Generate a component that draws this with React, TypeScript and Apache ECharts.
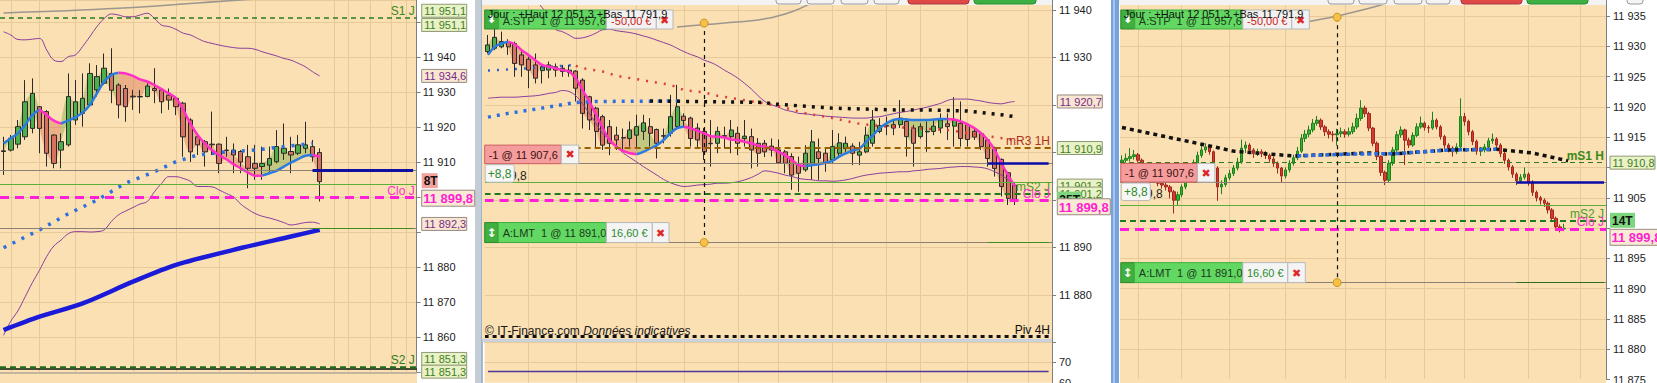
import { useEffect, useRef } from 'react';
import * as echarts from 'echarts';

const W = 1657;
const H = 383;
const FONT = '"Liberation Sans", Arial, sans-serif';
const BEIGE = '#FAE0B2';
const GRIDC = '#E8C999';
const AXISC = '#7F7F7F';

// ---------------- shared order / level prices ----------------
const stpPrice = 11957.6;
const posPrice = 11907.6;
const lmtPrice = 11891.0;
const cloJ = 11899.8;
const dayHigh = 12051.3;
const dayLow = 11791.9;

// ---------------- LEFT PANEL (4H) ----------------
// [open, close, low, high]
const leftCandles = [
  [11913.2, 11913.0, 11906.3, 11917.2],
  [11913.4, 11916.8, 11913.0, 11917.7],
  [11915.1, 11920.1, 11913.9, 11922.0],
  [11917.2, 11927.2, 11916.3, 11933.4],
  [11919.6, 11929.6, 11918.2, 11933.9],
  [11925.8, 11919.6, 11912.5, 11926.0],
  [11924.4, 11912.5, 11908.7, 11924.8],
  [11917.7, 11909.6, 11908.2, 11917.9],
  [11913.4, 11915.8, 11908.2, 11918.2],
  [11914.9, 11928.7, 11914.4, 11935.3],
  [11922.0, 11927.2, 11920.6, 11933.4],
  [11923.9, 11928.2, 11920.1, 11935.3],
  [11926.3, 11935.3, 11925.8, 11938.2],
  [11930.6, 11934.4, 11928.7, 11937.7],
  [11932.5, 11936.8, 11932.0, 11941.0],
  [11935.3, 11930.5, 11926.8, 11942.5],
  [11932.0, 11926.3, 11922.5, 11932.5],
  [11931.0, 11925.8, 11921.5, 11932.0],
  [11928.8, 11928.6, 11924.9, 11930.6],
  [11928.7, 11928.6, 11923.9, 11930.6],
  [11928.7, 11931.7, 11928.5, 11932.5],
  [11931.0, 11930.4, 11926.8, 11936.8],
  [11930.6, 11927.2, 11923.9, 11931.0],
  [11929.1, 11927.7, 11924.9, 11931.0],
  [11928.2, 11925.8, 11923.4, 11928.7],
  [11926.8, 11917.2, 11911.5, 11927.2],
  [11922.0, 11912.9, 11910.0, 11922.5],
  [11917.2, 11914.9, 11912.0, 11918.2],
  [11915.8, 11912.9, 11908.7, 11916.3],
  [11915.1, 11914.9, 11912.0, 11924.4],
  [11915.1, 11909.6, 11906.8, 11915.3],
  [11913.4, 11913.3, 11911.5, 11917.2],
  [11913.4, 11912.0, 11906.8, 11915.3],
  [11913.0, 11910.0, 11906.8, 11913.4],
  [11911.5, 11908.2, 11902.5, 11914.9],
  [11909.6, 11908.2, 11904.9, 11914.9],
  [11908.7, 11909.6, 11904.9, 11914.4],
  [11909.1, 11911.0, 11907.2, 11914.4],
  [11910.1, 11914.4, 11909.6, 11919.1],
  [11912.5, 11913.9, 11910.6, 11921.0],
  [11913.0, 11912.0, 11906.8, 11917.2],
  [11912.5, 11914.9, 11912.0, 11917.7],
  [11913.9, 11914.9, 11912.5, 11921.5],
  [11914.4, 11911.5, 11910.1, 11916.3],
  [11912.7, 11904.4, 11898.7, 11913.9],
];
const leftMa = [
  11915.3, 11916.8, 11918.2, 11920.6, 11923.4, 11925.0, 11923.4, 11921.8, 11921.0,
  11921.8, 11922.8, 11924.1, 11926.3, 11929.6, 11933.0, 11934.9, 11935.5, 11935.3, 11934.6,
  11933.6, 11933.0, 11932.0, 11930.8, 11929.6, 11928.2, 11924.9, 11921.0, 11917.7, 11915.3,
  11913.4, 11912.0, 11910.8, 11909.4, 11908.2, 11907.0, 11906.1, 11906.1, 11906.8, 11907.5,
  11908.7, 11909.8, 11910.8, 11911.8, 11912.0, 11911.5,
];
const leftMaRising = [[0, 5], [8, 16], [36, 43]];
const leftMaFalling = [[5, 8], [16, 36], [43, 44]];
const leftBollUp = [
  11947.2, 11946.3, 11945.0, 11944.9, 11945.1, 11945.3, 11942.0, 11939.1, 11938.7,
  11940.1, 11940.6, 11943.0, 11945.8, 11948.7, 11951.0, 11952.3, 11952.0, 11951.5, 11951.5,
  11952.0, 11952.5, 11951.0, 11949.1, 11948.7, 11947.9, 11946.8, 11946.3, 11945.3, 11944.4,
  11943.9, 11943.4, 11943.0, 11942.7, 11942.5, 11942.5, 11942.2, 11941.5, 11940.9, 11940.3,
  11939.6, 11939.1, 11938.2, 11937.2, 11935.8, 11934.6,
];
const leftBollDn = [
  11860.5, 11864.5, 11867.5, 11871.5, 11875.5, 11879.1, 11883.0, 11886.0, 11887.7,
  11889.5, 11890.1, 11890.1, 11890.0, 11890.1, 11890.6, 11893.0, 11894.9, 11896.0, 11897.0,
  11898.0, 11898.7, 11901.5, 11903.9, 11905.8, 11905.8, 11905.3, 11904.5, 11903.0, 11903.0,
  11902.9, 11902.0, 11901.0, 11900.0, 11898.0, 11896.5, 11895.3, 11894.5, 11894.0, 11893.4,
  11892.7, 11892.0, 11892.3, 11892.7, 11892.8, 11892.3,
];
const leftDotBlue = [
  [0, 11885.5], [5, 11890.6], [9, 11895.2], [13, 11899.1], [17, 11904.0], [21, 11907.2],
  [24, 11910.1], [27, 11912.0], [31, 11912.9], [35, 11913.4], [39, 11914.4], [43, 11915.3],
];
const leftSlowMa = [
  [0, 11862.0], [5, 11865.8], [11, 11869.6], [18, 11875.8], [24, 11880.6], [32, 11884.9],
  [40, 11888.7], [44, 11890.6],
];
const leftArc = [[0, 11952.6], [16, 11953.9], [33, 11956.3], [44, 11957.5]];
const leftGridIdx = [1, 5, 10, 18, 24, 30, 35, 46, 48, 51, 54, 56];
const leftS1 = 11951.1;
const leftS2 = 11851.3;
const leftGreen = 11903.7;

// ---------------- MIDDLE PANEL (35 ticks) ----------------
const midCandles = [
  [11931.2, 11932.6, 11930.8, 11934.7], [11931.9, 11934.2, 11931.5, 11936.1],
  [11932.2, 11933.3, 11931.9, 11935.4], [11933.1, 11932.2, 11930.5, 11933.8],
  [11932.9, 11928.7, 11925.9, 11933.3], [11930.5, 11928.4, 11925.9, 11931.2],
  [11929.6, 11927.3, 11923.5, 11930.1], [11928.4, 11925.6, 11924.5, 11930.8],
  [11927.2, 11928.0, 11924.5, 11928.4], [11927.3, 11928.4, 11925.6, 11929.1],
  [11928.0, 11927.3, 11925.9, 11928.7], [11927.7, 11927.0, 11925.9, 11928.4],
  [11927.3, 11926.8, 11925.9, 11928.4], [11927.1, 11923.5, 11920.7, 11927.3],
  [11925.2, 11918.2, 11915.0, 11925.6], [11921.7, 11916.8, 11914.7, 11921.9],
  [11919.3, 11914.4, 11910.8, 11919.6], [11917.5, 11911.5, 11910.5, 11917.9],
  [11915.4, 11911.9, 11909.4, 11916.8], [11913.6, 11912.6, 11910.5, 11915.4],
  [11913.1, 11913.0, 11910.5, 11915.0], [11912.9, 11914.7, 11911.2, 11916.5],
  [11913.6, 11915.4, 11910.8, 11917.9], [11914.4, 11916.2, 11912.6, 11917.9],
  [11915.4, 11914.0, 11911.2, 11917.2], [11914.8, 11911.9, 11908.7, 11915.0],
  [11913.5, 11913.4, 11911.9, 11915.0], [11914.0, 11917.5, 11913.3, 11922.1],
  [11915.4, 11919.6, 11915.0, 11924.2], [11917.6, 11916.7, 11915.4, 11918.2],
  [11917.2, 11912.9, 11911.2, 11917.5], [11915.1, 11912.6, 11910.8, 11916.1],
  [11914.4, 11910.1, 11908.4, 11915.1], [11911.9, 11911.8, 11907.0, 11916.8],
  [11911.9, 11914.4, 11909.8, 11915.4], [11913.5, 11913.4, 11910.8, 11915.4],
  [11913.3, 11914.7, 11909.8, 11916.8], [11914.0, 11911.9, 11909.4, 11915.4],
  [11912.9, 11913.4, 11911.2, 11916.8], [11913.3, 11910.5, 11906.6, 11915.0],
  [11911.9, 11909.8, 11907.0, 11913.0], [11911.9, 11910.1, 11909.0, 11912.6],
  [11911.3, 11910.5, 11909.1, 11912.9], [11910.5, 11907.8, 11907.6, 11912.7],
  [11910.1, 11907.7, 11905.6, 11910.5], [11909.1, 11905.2, 11902.1, 11909.8],
  [11907.3, 11905.6, 11901.7, 11909.1], [11906.3, 11909.8, 11905.9, 11911.5],
  [11907.7, 11912.2, 11904.2, 11914.7], [11910.1, 11908.7, 11904.2, 11912.9],
  [11909.8, 11907.7, 11905.9, 11910.8], [11908.4, 11911.2, 11907.7, 11914.7],
  [11909.8, 11912.0, 11909.1, 11914.0], [11910.8, 11911.9, 11910.1, 11913.3],
  [11911.3, 11909.8, 11907.3, 11911.9], [11909.4, 11910.1, 11907.3, 11912.2],
  [11910.1, 11913.6, 11909.8, 11915.4], [11911.9, 11916.8, 11911.2, 11918.9],
  [11914.4, 11915.6, 11914.0, 11917.2], [11915.6, 11915.5, 11913.6, 11917.5],
  [11915.8, 11915.1, 11913.6, 11916.8], [11915.8, 11917.2, 11915.1, 11921.0],
  [11916.5, 11913.3, 11909.1, 11917.2], [11915.1, 11911.9, 11907.0, 11915.8],
  [11913.3, 11915.4, 11912.9, 11916.1], [11914.4, 11914.3, 11910.1, 11916.5],
  [11914.4, 11915.5, 11913.6, 11916.8], [11915.1, 11916.8, 11914.0, 11918.2],
  [11916.0, 11915.4, 11912.6, 11918.2], [11915.5, 11916.7, 11911.2, 11921.6],
  [11916.1, 11912.9, 11911.2, 11920.7], [11915.8, 11912.7, 11911.2, 11916.1],
  [11914.4, 11913.2, 11912.6, 11915.1], [11913.9, 11911.2, 11910.5, 11914.4],
  [11912.6, 11908.7, 11907.0, 11912.9], [11910.6, 11906.6, 11904.9, 11911.2],
  [11908.5, 11902.8, 11900.7, 11908.7], [11905.7, 11900.3, 11898.9, 11905.9],
  [11903.1, 11900.1, 11898.9, 11903.5],
];
const midMa = [
  11930.5, 11932.2, 11932.9, 11933.3, 11932.7, 11931.5, 11930.5, 11929.4, 11928.4, 11928.0,
  11927.7, 11927.3, 11927.0, 11925.6, 11923.1, 11920.7, 11917.9, 11915.1, 11912.6, 11911.2,
  11910.3, 11909.8, 11909.6, 11910.1, 11910.8, 11911.5, 11912.6, 11914.0, 11915.1, 11915.4,
  11915.1, 11914.5, 11914.0, 11913.4, 11913.3, 11913.1, 11912.7, 11912.6, 11912.2, 11911.9,
  11911.4, 11911.2, 11910.8, 11910.1, 11909.4, 11908.4, 11907.3, 11907.1, 11907.3, 11907.5,
  11907.8, 11908.2, 11909.1, 11909.8, 11910.4, 11910.8, 11912.2, 11913.6, 11915.1, 11916.1,
  11916.8, 11917.0, 11916.9, 11916.8, 11916.8, 11916.8, 11916.9, 11917.0, 11917.0, 11916.9,
  11916.5, 11915.9, 11915.1, 11914.0, 11912.6, 11910.5, 11907.7, 11905.2, 11902.8,
];
const midMaRising = [[0, 3], [22, 29], [47, 68]];
const midMaFalling = [[3, 22], [29, 47], [68, 78]];
const midBollUp = [
  11944.0, 11945.0, 11946.0, 11946.0, 11945.0, 11944.0, 11943.0, 11942.0, 11940.5, 11938.5,
  11935.9, 11935.4, 11934.7, 11934.0, 11934.1, 11934.5, 11935.1, 11935.8, 11935.9, 11935.6,
  11935.4, 11935.2, 11934.9, 11934.5, 11934.1, 11933.6, 11933.1, 11932.6, 11931.9, 11931.2,
  11930.6, 11930.1, 11929.4, 11928.9, 11928.2, 11927.3, 11926.5, 11925.6, 11924.5, 11923.3,
  11921.9, 11920.7, 11920.0, 11919.5, 11918.9, 11918.6, 11918.2, 11918.1, 11917.9, 11917.8,
  11917.6, 11917.5, 11917.4, 11917.3, 11917.2, 11917.2, 11917.2, 11917.4, 11917.5, 11917.8,
  11918.1, 11918.4, 11918.6, 11918.9, 11919.2, 11919.5, 11919.9, 11920.3, 11920.9, 11921.2,
  11921.2, 11921.2, 11921.0, 11920.8, 11920.5, 11920.3, 11920.2, 11920.5, 11920.7,
];
const midBollDn = [
  11921.4, 11921.5, 11921.6, 11921.6, 11921.6, 11921.7, 11921.8, 11921.9, 11922.1, 11922.4,
  11922.6, 11923.0, 11922.8, 11921.9, 11920.2, 11918.2, 11916.0, 11914.0, 11912.6, 11911.2,
  11909.9, 11908.9, 11908.0, 11907.0, 11906.1, 11905.2, 11904.3, 11903.6, 11903.1, 11902.8,
  11902.9, 11903.1, 11903.2, 11903.3, 11903.5, 11903.5, 11903.6, 11903.8, 11904.2, 11904.7,
  11905.4, 11906.1, 11905.9, 11905.6, 11905.2, 11904.9, 11904.5, 11904.3, 11904.2, 11904.0,
  11904.0, 11903.9, 11904.0, 11904.2, 11904.5, 11904.9, 11905.2, 11905.4, 11905.6, 11905.7,
  11905.8, 11905.9, 11905.9, 11906.1, 11906.2, 11906.4, 11906.5, 11906.6, 11906.8, 11906.9,
  11907.0, 11907.0, 11906.9, 11906.8, 11906.5, 11905.9, 11905.2, 11904.2, 11903.1,
];
const midDotBlueHigh = [[0, 11927.2], [6, 11927.7], [13, 11928.4]];
const midDotBlueLow = [[0, 11917.4], [3, 11918.2], [8, 11919.3], [13, 11920.5], [16, 11920.7], [29, 11920.8]];
const midDotRed = [
  [13, 11928.2], [14, 11927.7], [17, 11927.0], [19, 11926.1], [22, 11925.4], [24, 11924.9],
  [27, 11924.2], [29, 11923.1], [32, 11922.6], [34, 11921.9], [37, 11921.2], [39, 11920.7],
  [41, 11920.3], [44, 11919.4], [47, 11918.2], [51, 11917.2], [55, 11916.0], [59, 11915.4],
  [63, 11915.1], [68, 11914.7], [73, 11913.6], [75, 11913.2], [78, 11912.6],
];
const midDotBlack = [
  [24, 11920.8], [41, 11920.5], [42, 11920.2], [46, 11919.8], [51, 11919.3], [56, 11919.1],
  [61, 11918.9], [66, 11918.9], [71, 11918.7], [76, 11917.9], [78, 11917.5],
];
const midArc = [[28, 11936.4], [35, 11937.2], [41, 11938.1], [45, 11939.6], [48, 11941.5]];
const midGridIdx = [6, 13, 22, 29, 37, 43, 51, 59, 64, 71, 80];
const midR3 = 11910.9;
const midS2 = 11901.2;
const midS2b = 11901.3;
const midGreen = 11903.7;
const piv4H = 11871.2;
const oscLine = [[0, 65.6], [83, 65.6]];

// ---------------- RIGHT PANEL (14 ticks) ----------------
const rightCandles = [
  [11910.9, 11911.2, 11910.5, 11912.0], [11911.2, 11911.5, 11910.8, 11912.3],
  [11911.5, 11911.8, 11911.0, 11913.2], [11911.8, 11912.1, 11911.3, 11912.9],
  [11912.1, 11911.2, 11910.8, 11912.4], [11911.2, 11910.4, 11909.9, 11911.5],
  [11910.4, 11909.2, 11908.8, 11910.6], [11909.2, 11908.5, 11907.9, 11909.5],
  [11908.5, 11908.0, 11907.5, 11908.9], [11908.0, 11907.4, 11906.9, 11908.3],
  [11907.4, 11907.1, 11906.5, 11907.8], [11907.1, 11906.8, 11906.2, 11907.5],
  [11906.8, 11906.0, 11904.9, 11907.1], [11906.0, 11904.6, 11902.4, 11906.3],
  [11904.6, 11905.5, 11903.8, 11906.0], [11905.5, 11906.8, 11905.1, 11907.2],
  [11906.8, 11907.9, 11906.4, 11908.3], [11907.9, 11909.3, 11907.5, 11909.8],
  [11909.3, 11910.7, 11909.0, 11911.3], [11910.7, 11912.0, 11910.3, 11912.6],
  [11912.0, 11912.9, 11911.6, 11913.7], [11912.9, 11913.4, 11912.4, 11914.0],
  [11913.4, 11912.6, 11912.1, 11913.7], [11912.6, 11909.9, 11909.3, 11912.8],
  [11909.9, 11906.8, 11904.5, 11910.2], [11906.8, 11907.2, 11905.6, 11907.9],
  [11907.2, 11908.3, 11906.8, 11908.8], [11908.3, 11909.0, 11907.9, 11909.6],
  [11909.0, 11909.9, 11908.6, 11910.4], [11909.9, 11910.9, 11909.5, 11911.6],
  [11910.9, 11913.2, 11910.6, 11914.6], [11913.2, 11913.7, 11912.4, 11914.3],
  [11913.7, 11912.9, 11912.2, 11914.0], [11912.9, 11912.3, 11911.6, 11913.2],
  [11912.3, 11912.6, 11911.9, 11913.1], [11912.6, 11912.3, 11911.7, 11913.0],
  [11912.3, 11912.0, 11911.4, 11912.7], [11912.0, 11911.4, 11910.8, 11912.3],
  [11911.4, 11910.7, 11910.1, 11911.8], [11910.7, 11909.9, 11909.0, 11911.0],
  [11909.9, 11908.6, 11907.5, 11910.1], [11908.6, 11909.6, 11908.2, 11910.0],
  [11909.6, 11910.7, 11909.2, 11911.2], [11910.7, 11911.6, 11910.3, 11912.1],
  [11911.6, 11912.7, 11911.2, 11913.4], [11912.7, 11914.8, 11912.4, 11915.5],
  [11914.8, 11915.5, 11914.2, 11916.2], [11915.5, 11916.2, 11915.0, 11916.9],
  [11916.2, 11917.3, 11915.8, 11918.0], [11917.3, 11917.8, 11916.9, 11918.5],
  [11917.8, 11916.7, 11916.2, 11918.1], [11916.7, 11915.9, 11915.2, 11917.0],
  [11915.9, 11915.5, 11914.8, 11916.3], [11915.5, 11915.4, 11914.3, 11916.0],
  [11915.4, 11915.6, 11913.6, 11916.4], [11915.6, 11915.9, 11915.0, 11916.6],
  [11915.9, 11915.5, 11914.9, 11916.3], [11915.5, 11915.9, 11915.1, 11916.6],
  [11915.9, 11916.7, 11915.5, 11917.4], [11916.7, 11918.1, 11916.3, 11918.9],
  [11918.1, 11919.8, 11917.7, 11921.1], [11919.8, 11918.9, 11918.3, 11920.2],
  [11918.9, 11916.5, 11916.0, 11919.2], [11916.5, 11914.0, 11913.5, 11916.7],
  [11914.0, 11911.8, 11911.2, 11914.3], [11911.8, 11909.2, 11908.6, 11912.0],
  [11909.2, 11907.9, 11907.1, 11909.5], [11907.9, 11910.7, 11907.5, 11911.2],
  [11910.7, 11912.9, 11910.3, 11913.4], [11912.9, 11915.4, 11912.6, 11916.0],
  [11915.4, 11916.2, 11914.9, 11916.8], [11916.2, 11914.5, 11910.4, 11916.4],
  [11914.5, 11913.7, 11913.2, 11914.9], [11913.7, 11915.3, 11913.4, 11915.8],
  [11915.3, 11916.7, 11915.0, 11917.3], [11916.7, 11917.3, 11916.4, 11918.4],
  [11917.3, 11916.6, 11916.1, 11917.6], [11916.6, 11916.5, 11915.7, 11917.0],
  [11916.5, 11917.8, 11916.2, 11919.2], [11917.8, 11916.7, 11916.3, 11918.1],
  [11916.7, 11915.1, 11914.6, 11917.0], [11915.1, 11913.7, 11913.1, 11915.4],
  [11913.7, 11913.2, 11912.5, 11914.0], [11913.2, 11912.6, 11911.8, 11913.5],
  [11912.6, 11913.4, 11912.2, 11914.0], [11913.4, 11918.4, 11913.1, 11921.4],
  [11918.4, 11917.6, 11916.9, 11919.0], [11917.6, 11915.9, 11915.3, 11917.9],
  [11915.9, 11914.3, 11913.7, 11916.2], [11914.3, 11912.7, 11912.1, 11914.6],
  [11912.7, 11912.9, 11911.9, 11913.4], [11912.9, 11913.4, 11912.5, 11913.9],
  [11913.4, 11914.4, 11913.1, 11914.9], [11914.4, 11914.7, 11913.9, 11915.6],
  [11914.7, 11913.7, 11913.2, 11915.0], [11913.7, 11912.3, 11911.7, 11914.0],
  [11912.3, 11911.2, 11910.6, 11912.6], [11911.2, 11910.1, 11909.5, 11911.5],
  [11910.1, 11908.9, 11908.3, 11910.4], [11908.9, 11907.8, 11907.1, 11909.2],
  [11907.8, 11908.4, 11907.4, 11908.9], [11908.4, 11908.9, 11908.0, 11910.0],
  [11908.9, 11907.6, 11907.0, 11909.2], [11907.6, 11905.9, 11905.3, 11907.9],
  [11905.9, 11905.0, 11904.4, 11906.2], [11905.0, 11904.6, 11903.9, 11905.3],
  [11904.6, 11904.1, 11903.5, 11904.9], [11904.1, 11903.0, 11902.4, 11904.4],
  [11903.0, 11901.6, 11901.0, 11903.3], [11901.6, 11900.2, 11899.6, 11901.9],
  [11900.2, 11899.85, 11899.3, 11900.6], [11899.85, 11899.95, 11899.5, 11900.7],
];
const rightDotBlack = [
  [0, 11916.6], [21, 11913.7], [28, 11912.7], [43, 11911.9], [62, 11912.4], [67, 11912.2],
  [82, 11912.9], [94, 11913.0], [103, 11912.4], [112, 11911.1],
];
const rightDotBlue = [[44, 11911.9], [57, 11912.2], [69, 11912.3], [78, 11912.7], [82, 11912.9], [94, 11913.0]];
const rightArc = [[47, 11934.1], [56, 11935.3], [65, 11936.8], [70, 11938.0]];
const rightGridIdx = [4, 15, 27, 41, 56, 66, 76, 86, 102, 115];
const rightS1 = 11910.8;
const rightS2 = 11901.2;
const rightGreen = 11903.8;

// ---------------- helpers ----------------
const thousands = (s: string) => s.replace(/\B(?=(\d{3})+(?!\d))/g, ' ');
const tickTxt = (v: number) => thousands(String(Math.round(v)));
const priceTxt = (v: number) => {
  const [i, d] = v.toFixed(1).split('.');
  return thousands(i) + ',' + d;
};
const slots = (n: number) => Array.from({ length: n }, (_, i) => String(i));
const inRanges = (i: number, ranges: number[][]) => ranges.some(([a, b]) => i >= a && i <= b);
const pick = (vals: number[], ranges: number[][]) => vals.map((v, i) => (inRanges(i, ranges) ? v : null));

const hLine = (v: number, color: string, width: number, type: any, label?: { text: string; color: string; bold?: boolean }) => ({
  yAxis: v,
  lineStyle: { color, width, type },
  label: label
    ? { show: true, position: 'insideEndTop', formatter: label.text, color: label.color, fontSize: 12, fontFamily: FONT, fontWeight: label.bold ? 'bold' : 'normal', distance: [2, 1] }
    : { show: false },
});
const seg = (x0: number, x1: number, v: number, color: string, width: number, type: any = 'solid') => [
  { coord: [x0, v], lineStyle: { color, width, type }, label: { show: false } },
  { coord: [x1, v] },
];
const vSeg = (x: number, v0: number, v1: number) => [
  { coord: [x, v0], lineStyle: { color: '#111', width: 1.2, type: [4, 4] }, label: { show: false } },
  { coord: [x, v1] },
];
const gridLines = (idx: number[]) => ({
  silent: true,
  z: 1,
  symbol: ['none', 'none'],
  label: { show: false },
  data: idx.map((i) => ({ xAxis: i, lineStyle: { color: GRIDC, width: 1, type: 'solid' } })),
});
const dots = (coords: number[][]) => ({
  silent: true,
  symbol: 'circle',
  symbolSize: 8,
  label: { show: false },
  itemStyle: { color: '#F6C146', borderColor: '#C9951E', borderWidth: 1 },
  data: coords.map((c) => ({ coord: c })),
});

function yAxisCfg(gridIndex: number, min: number, max: number, interval: number, hidden: number[], margin: number) {
  return {
    type: 'value',
    gridIndex,
    position: 'right',
    min,
    max,
    interval,
    axisLine: { show: true, onZero: false, lineStyle: { color: AXISC } },
    axisTick: { show: true, length: 4, lineStyle: { color: AXISC } },
    splitLine: { show: true, lineStyle: { color: GRIDC, width: 1 } },
    axisLabel: {
      margin,
      fontSize: 11,
      color: '#1C1C1C',
      fontFamily: FONT,
      showMaxLabel: false,
      formatter: (v: number) => {
        const off = Math.abs(v / interval - Math.round(v / interval)) > 1e-6;
        if (off || hidden.some((h) => Math.abs(h - v) < 0.01)) return '';
        return gridIndex === 2 ? String(v) : tickTxt(v);
      },
    },
  };
}
const xAxisCfg = (gridIndex: number, n: number) => ({
  type: 'category',
  gridIndex,
  data: slots(n),
  boundaryGap: true,
  axisLine: { show: false },
  axisTick: { show: false },
  axisLabel: { show: false },
  splitLine: { show: false },
});

const line = (xi: number, data: any[], color: string, width: number, extra: any = {}) => ({
  type: 'line',
  xAxisIndex: xi,
  yAxisIndex: xi,
  data,
  symbol: 'none',
  showSymbol: false,
  silent: true,
  z: 3,
  connectNulls: false,
  lineStyle: { color, width, cap: 'butt', ...(extra.lineStyle || {}) },
  smooth: extra.smooth ?? false,
  ...(extra.rest || {}),
});

// translucent band between the trend average and the closes, coloured by trend direction
const cloud = (xi: number, ma: number[], candles: number[][], ranges: number[][], color: string, id: string) => {
  const base = ma.map((m, i) => (inRanges(i, ranges) ? Math.min(m, candles[i][1]) : null));
  const span = ma.map((m, i) => (inRanges(i, ranges) ? Math.abs(m - candles[i][1]) : null));
  const common = { type: 'line', xAxisIndex: xi, yAxisIndex: xi, stack: id, symbol: 'none', showSymbol: false, silent: true, z: 1, smooth: 0.35, lineStyle: { opacity: 0, width: 0 } };
  return [
    { ...common, data: base },
    { ...common, data: span, areaStyle: { color, opacity: 1 } },
  ];
};

const UP = '#4DAE4A';
const DN = '#D77260';
const PINK = '#FF2FC8';
const MABLUE = '#2C7BE0';
const BOLL = '#8A3C9E';
const CLOUD_UP = 'rgba(118,168,62,0.42)';
const CLOUD_DN = 'rgba(212,98,70,0.38)';

const gridBase = { show: true, backgroundColor: BEIGE, borderWidth: 0, outerBoundsMode: 'none', containLabel: false };

function buildOption() {
  return {
    animation: false,
    backgroundColor: '#FFFFFF',
    grid: [
      { ...gridBase, left: 0, top: 0, width: 416.7, height: 372 },
      { ...gridBase, left: 484.6, top: 0, width: 567.4, height: 342.3 },
      { ...gridBase, left: 484.6, top: 342, width: 567.4, height: 40.8 },
      { ...gridBase, left: 1120, top: 0, width: 486, height: 379.6 },
    ],
    xAxis: [xAxisCfg(0, 58), xAxisCfg(1, 84), xAxisCfg(2, 84), xAxisCfg(3, 122)],
    yAxis: [
      yAxisCfg(0, 11850, 11956.286, 10, [11950, 11900, 11890, 11850], 6),
      yAxisCfg(1, 11870, 11942.063, 10, [11920, 11910, 11900, 11870], 7),
      yAxisCfg(2, 60, 80, 10, [80], 7),
      yAxisCfg(3, 11875, 11937.64, 5, [11910, 11900], 7),
    ],
    series: [
      // ---- left ----
      ...cloud(0, leftMa, leftCandles, leftMaRising, CLOUD_UP, 'lu'),
      ...cloud(0, leftMa, leftCandles, leftMaFalling, CLOUD_DN, 'ld'),
      {
        type: 'candlestick', xAxisIndex: 0, yAxisIndex: 0, data: leftCandles, barWidth: 5, silent: true, z: 2,
        itemStyle: { color: UP, color0: DN, borderColor: '#2A2A2A', borderColor0: '#2A2A2A', borderWidth: 1 },
        markLine: {
          silent: true, symbol: ['none', 'none'],
          data: [
            hLine(leftS1, '#2E7A1E', 1.5, [5, 4], { text: 'S1 J', color: '#3C8A1E' }),
            hLine(posPrice, '#8C7F73', 1, 'solid'),
            seg(43, 57, posPrice, '#0F0FA0', 3),
            hLine(leftGreen, '#5AAE3A', 1, 'solid'),
            hLine(cloJ, '#FF1FD8', 3, [9, 6], { text: 'Clo J', color: '#FF30D0' }),
            hLine(lmtPrice, '#8C7F73', 1, 'solid'),
            seg(43, 57, lmtPrice, '#3C8C1E', 1.2),
            hLine(leftS2 - 0.3, '#111111', 1.5, 'solid'),
            hLine(leftS2 + 0.2, '#1E6E1E', 2.5, [6, 4], { text: 'S2 J', color: '#2E7D1E' }),
          ],
        },
      },
      line(0, leftBollUp, BOLL, 1, { smooth: 0.4, rest: { markLine: gridLines(leftGridIdx) } }),
      line(0, leftBollDn, BOLL, 1, { smooth: 0.4 }),
      line(0, leftArc, '#9C968F', 1.5, { smooth: 0.4 }),
      line(0, leftSlowMa, '#1A1AD8', 4.5, { smooth: 0.3 }),
      line(0, leftDotBlue, '#2E6FE0', 3.5, { lineStyle: { type: [3, 7] } }),
      line(0, pick(leftMa, leftMaRising), MABLUE, 2.5, { smooth: 0.4 }),
      line(0, pick(leftMa, leftMaFalling), PINK, 2.5, { smooth: 0.4 }),

      // ---- middle ----
      ...cloud(1, midMa, midCandles, midMaRising, CLOUD_UP, 'mu'),
      ...cloud(1, midMa, midCandles, midMaFalling, CLOUD_DN, 'md'),
      {
        type: 'candlestick', xAxisIndex: 1, yAxisIndex: 1, data: midCandles, barWidth: 4.5, silent: true, z: 2,
        itemStyle: { color: UP, color0: DN, borderColor: '#2A2A2A', borderColor0: '#2A2A2A', borderWidth: 1 },
        markLine: {
          silent: true, symbol: ['none', 'none'],
          data: [
            hLine(midR3, '#9A6200', 2, [6, 4], { text: 'mR3 1H', color: '#B0301A' }),
            hLine(posPrice, '#8C7F73', 1, 'solid'),
            seg(74, 83, posPrice, '#0B0BA8', 2.5),
            hLine(midGreen, '#5AAE3A', 1, 'solid'),
            hLine(midS2, '#1E7A1E', 2, [6, 4], { text: 'mS2 J', color: '#4A9A2A' }),
            hLine(cloJ, '#FF1FD8', 3, [9, 6], { text: 'Clo J', color: '#FF30D0' }),
            hLine(lmtPrice, '#8C7F73', 1, 'solid'),
            seg(74, 83, lmtPrice, '#3C8C1E', 1.2),
            hLine(piv4H, '#111111', 3, [4, 4], { text: 'Piv 4H', color: '#111111' }),
            vSeg(32, 11937.2, lmtPrice),
          ],
        },
        markPoint: dots([[32, 11937.2], [32, lmtPrice]]),
      },
      line(1, midBollUp, BOLL, 1, { smooth: 0.4, rest: { markLine: gridLines(midGridIdx) } }),
      line(1, midBollDn, BOLL, 1, { smooth: 0.4 }),
      line(1, midArc, '#9C968F', 1.5, { smooth: 0.4 }),
      line(1, midDotBlueHigh, '#2E5FD0', 2.5, { lineStyle: { type: [2, 7] } }),
      line(1, midDotRed, '#E03A3A', 2.5, { lineStyle: { type: [2, 7] } }),
      line(1, midDotBlueLow, '#2E6FE0', 3.5, { lineStyle: { type: [3, 6] } }),
      line(1, midDotBlack, '#111111', 3.5, { lineStyle: { type: [3, 6] } }),
      line(1, pick(midMa, midMaRising), MABLUE, 2.5, { smooth: 0.4 }),
      line(1, pick(midMa, midMaFalling), PINK, 2.5, { smooth: 0.4 }),

      // ---- middle sub pane ----
      line(2, oscLine, '#4B3A9A', 1.5, { rest: { markLine: gridLines(midGridIdx) } }),

      // ---- right ----
      {
        type: 'candlestick', xAxisIndex: 3, yAxisIndex: 3, data: rightCandles, barWidth: 3, silent: true, z: 2,
        itemStyle: { color: '#2FB52F', color0: '#D23A32', borderColor: '#1D801D', borderColor0: '#A3261F', borderWidth: 1 },
        markLine: {
          silent: true, symbol: ['none', 'none'],
          data: [
            hLine(rightS1, '#2E7A1E', 1.2, [5, 4], { text: 'mS1 H', color: '#3A8A1A', bold: true }),
            hLine(posPrice, '#8C7F73', 1, 'solid'),
            seg(99, 121, posPrice, '#0B0BA8', 2.5),
            hLine(rightGreen, '#5AAE3A', 1, 'solid'),
            hLine(rightS2, '#1E7A1E', 2, [6, 4], { text: 'mS2 J', color: '#4A9A2A' }),
            hLine(cloJ, '#FF1FD8', 3, [9, 6], { text: 'Clo J', color: '#FF30D0' }),
            hLine(lmtPrice, '#8C7F73', 1, 'solid'),
            seg(99, 121, lmtPrice, '#2E6E1E', 1.2),
            vSeg(54, 11934.8, lmtPrice),
          ],
        },
        markPoint: dots([[54, 11934.8], [54, lmtPrice]]),
      },
      line(3, rightArc, '#9C968F', 1.5, { smooth: 0.4, rest: { markLine: gridLines(rightGridIdx) } }),
      line(3, rightDotBlack, '#111111', 3.5, { lineStyle: { type: [4, 4] } }),
      line(3, rightDotBlue, '#2C6EE0', 3.5, { lineStyle: { type: [4, 3] } }),
    ],
  };
}

function buildGraphic(chart: any) {
  const py = (ax: number, v: number) => chart.convertToPixel({ yAxisIndex: ax }, v) as number;
  const els: any[] = [];
  const rect = (x: number, y: number, w: number, h: number, fill: string, stroke = 'none', r = 0) =>
    els.push({ type: 'rect', silent: true, z: 40 + els.length, shape: { x, y, width: w, height: h, r }, style: { fill, stroke, lineWidth: 1 } });
  const text = (x: number, y: number, s: string, fill: string, font: string, align = 'left') =>
    els.push({ type: 'text', silent: true, z: 40 + els.length, x, y, style: { text: s, fill, font, align, verticalAlign: 'middle' } });
  const F11 = `11px ${FONT}`;
  const F12 = `12px ${FONT}`;
  const FB = `bold 13px ${FONT}`;
  const FX = `bold 11px "DejaVu Sans", sans-serif`;

  const greenBox = (x: number, yc: number, v: number) => {
    rect(x, yc - 6.5, 45, 13, '#E9F1C6', '#8E9A72');
    text(x + 2.5, yc + 0.5, priceTxt(v), '#3F7F1F', F11);
  };
  const purpleBox = (x: number, yc: number, v: number) => {
    rect(x, yc - 6.5, 45, 13, '#F7E6D0', '#9A8A82');
    text(x + 2.5, yc + 0.5, priceTxt(v), '#7A2A8A', F11);
  };
  const magentaBox = (x: number, yc: number, v: number) => {
    rect(x, yc - 8, 53, 16, '#F9EAD6', '#9A8A82');
    text(x + 1.5, yc + 0.5, priceTxt(v), '#FF1FD0', FB);
  };
  const tBox = (x: number, yc: number, w: number, s: string, fill: string) => {
    rect(x, yc - 7.5, w, 15, fill, 'none');
    text(x + 2, yc + 0.5, s, '#111111', `bold 12px ${FONT}`);
  };

  // fillers, panel separators and top strips
  rect(0, 372, 417, 11, BEIGE, 'none');
  rect(0, 372.5, 417, 1, '#8A8A8A', 'none');
  rect(1120, 379, 486, 4, BEIGE, 'none');
  rect(475, 0, 7, H, '#C4CCD6', 'none');
  rect(481.5, 0, 1.2, H, '#7E9CC6', 'none');
  rect(482, 0, 3, 342, BEIGE, 'none');
  rect(1111, 0, 8, H, '#77A1DA', 'none');
  rect(1113, 0, 2, H, '#A9C4EA', 'none');
  rect(482, 339, 570, 3, '#C9D1DB', 'none');
  rect(482, 0, 570, 5, '#F3F3F3', 'none');
  rect(1119, 0, 487, 5, '#F3F3F3', 'none');
  const btn = (x0: number, x1: number, fill: string, stroke: string) => rect(x0, -8, x1 - x0, 12, fill, stroke, 3);
  [[776, 801], [807, 834], [841, 868], [874, 899]].forEach(([a, b]) => btn(a, b, '#F4F4F4', '#9A9A9A'));
  btn(908, 969, '#E04848', '#B03030');
  btn(974, 1036, '#3CB043', '#2A8A2A');
  [[1328, 1354], [1359, 1387], [1394, 1422], [1426, 1450], [1627, 1643]].forEach(([a, b]) => btn(a, b, '#F4F4F4', '#9A9A9A'));
  btn(1461, 1522, '#E04848', '#B03030');
  btn(1527, 1588, '#3CB043', '#2A8A2A');

  // ---- left axis boxes ----
  const lx = 421.7;
  greenBox(lx, py(0, leftS1) - 7.4, leftS1);
  greenBox(lx, py(0, leftS1) + 6.8, leftS1);
  purpleBox(lx, py(0, leftBollUp[leftBollUp.length - 1]), leftBollUp[leftBollUp.length - 1]);
  tBox(lx, py(0, cloJ) - 17, 16, '8T', '#F2A29C');
  magentaBox(lx, py(0, cloJ) + 0.5, cloJ);
  purpleBox(lx, py(0, leftBollDn[leftBollDn.length - 1]), leftBollDn[leftBollDn.length - 1]);
  greenBox(lx, py(0, leftS2) - 8.5, leftS2);
  greenBox(lx, py(0, leftS2) + 4.2, leftS2);

  // ---- middle axis boxes ----
  const mx = 1057.3;
  purpleBox(mx, py(1, midBollUp[midBollUp.length - 1]), midBollUp[midBollUp.length - 1]);
  greenBox(mx, py(1, midR3), midR3);
  greenBox(mx, py(1, midS2) - 8.5, midS2b);
  greenBox(mx, py(1, midS2) - 0.5, midS2);
  tBox(mx, py(1, cloJ) - 1.5, 24, '35T', '#7ED67E');
  magentaBox(mx, py(1, cloJ) + 6, cloJ);

  // ---- right axis boxes ----
  const rx = 1610;
  greenBox(rx, py(3, rightS1), rightS1);
  tBox(rx, py(3, cloJ) - 9, 25, '14T', '#7ED67E');
  magentaBox(rx, py(3, cloJ) + 8, cloJ);

  // ---- order tags (middle & right panels) ----
  const tags = (x0: number, ax: number, widths: number[]) => {
    const [wMain, wPnl, wX] = widths;
    // stop tag (its price lies above the visible range: pinned at the top)
    rect(x0, 10, 14, 19, '#3FAF3F', '#2E8A2E');
    text(x0 + 7, 19.5, '⬇', '#FFFFFF', `bold 11px "DejaVu Sans", sans-serif`, 'center');
    rect(x0 + 14, 10, wMain, 19, '#62D862', '#3FAF3F');
    text(x0 + 18, 20.5, `A:STP  1 @ ${priceTxt(stpPrice)}`, '#1A3A1A', F11);
    rect(x0 + 14 + wMain, 10, wPnl, 19, '#F2F2F2', '#B8B8B8');
    text(x0 + 14 + wMain + wPnl / 2, 20.5, '-50,00 €', '#D01818', F11, 'center');
    rect(x0 + 14 + wMain + wPnl, 10, wX, 19, '#F2F2F2', '#B8B8B8');
    text(x0 + 14 + wMain + wPnl + wX / 2, 20, '✖', '#E02828', FX, 'center');
    text(x0 + 3, 14, `Jour : +Haut ${priceTxt(dayHigh)} +Bas ${priceTxt(dayLow)}`, '#111111', F11);

    // position tag sitting on the position line
    const yp = py(ax, posPrice);
    rect(x0, yp - 18.6, 76.6, 18.6, '#F59C9C', '#D06060');
    text(x0 + 4, yp - 9, `-1 @ ${priceTxt(posPrice)}`, '#3A1010', F11);
    rect(x0 + 76.6, yp - 18.6, 17.5, 18.6, '#F4F4F4', '#B8B8B8');
    text(x0 + 85.3, yp - 9, '✖', '#E02828', FX, 'center');
    text(x0 + 42, yp + 12, '9,8', '#222222', F12, 'right');
    rect(x0 + 0.5, yp + 1, 29, 17.5, '#F7F7F7', '#BBBBBB', 2);
    text(x0 + 15, yp + 10, '+8,8', '#2E8B2E', F12, 'center');

    // limit tag sitting on the limit line
    const yl = py(ax, lmtPrice);
    rect(x0, yl - 20, 13.5, 20, '#3FAF3F', '#2E8A2E');
    text(x0 + 6.75, yl - 9.5, '↕', '#FFFFFF', `bold 12px "DejaVu Sans", sans-serif`, 'center');
    rect(x0 + 13.5, yl - 20, wMain + 0.5, 20, '#62D862', '#3FAF3F');
    text(x0 + 18, yl - 9.5, `A:LMT  1 @ ${priceTxt(lmtPrice)}`, '#1A3A1A', F11);
    rect(x0 + 14 + wMain, yl - 20, wPnl - 4, 20, '#F4F4F4', '#B8B8B8');
    text(x0 + 14 + wMain + (wPnl - 4) / 2, yl - 9.5, '16,60 €', '#2E8B2E', F11, 'center');
    rect(x0 + 10 + wMain + wPnl, yl - 20, wX, 20, '#F4F4F4', '#B8B8B8');
    text(x0 + 10 + wMain + wPnl + wX / 2, yl - 9.5, '✖', '#E02828', FX, 'center');
  };
  tags(484.7, 1, [107.6, 50, 16.7]);
  tags(1120.8, 3, [108, 49, 17.5]);

  // copyright line
  els.push({
    type: 'text', silent: true, z: 40 + els.length, x: 485, y: py(1, piv4H) - 6,
    style: {
      text: '{a|© IT-Finance.com} {b|Données indicatives}',
      verticalAlign: 'middle', align: 'left',
      rich: {
        a: { fontSize: 12, fontFamily: FONT, fill: '#1A1A1A' },
        b: { fontSize: 12, fontFamily: FONT, fontStyle: 'italic', fill: '#1A1A1A' },
      },
    },
  });
  return els;
}

export default function App() {
  const ref = useRef<HTMLDivElement>(null);
  useEffect(() => {
    if (!ref.current) return;
    const chart = echarts.init(ref.current, undefined, { renderer: 'svg', width: W, height: H });
    chart.setOption(buildOption() as any);
    chart.setOption({ graphic: buildGraphic(chart) } as any);
    return () => chart.dispose();
  }, []);
  return <div ref={ref} style={{ position: 'fixed', left: 0, top: 0, width: W, height: H, background: '#FFFFFF' }} />;
}
